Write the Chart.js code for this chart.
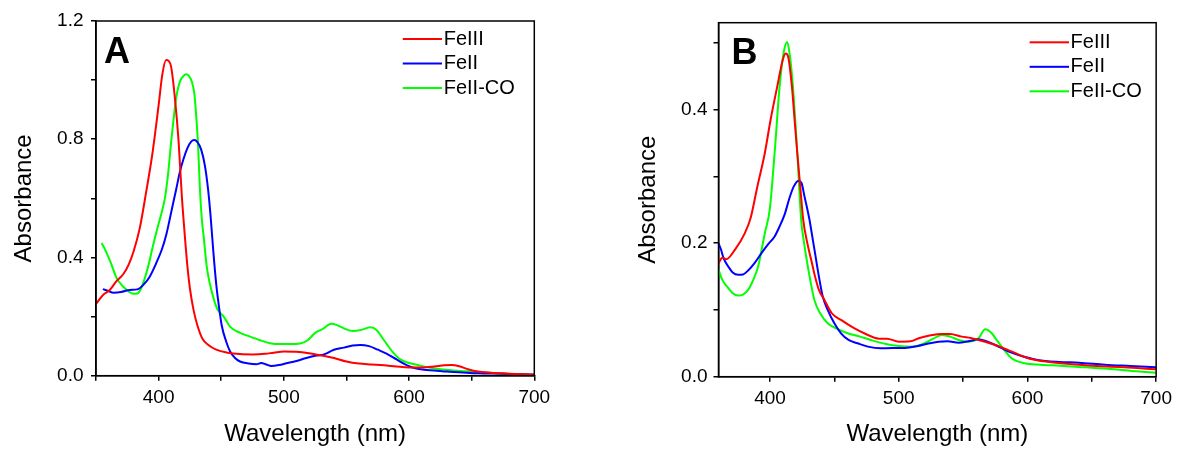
<!DOCTYPE html>
<html>
<head>
<meta charset="utf-8">
<script src="https://cdn.jsdelivr.net/npm/chart.js@4.4.1/dist/chart.umd.min.js"></script>
<style>
html, body { margin: 0; padding: 0; background: #fff; }
#wrap { position: relative; width: 1178px; height: 449px; overflow: hidden; background: #fff; }
.box { position: absolute; top: 0; height: 449px; }
#boxA { left: 0; width: 580px; }
#boxB { left: 600px; width: 578px; }
canvas { display: block; }
</style>
</head>
<body>
<div id="wrap">
  <div class="box" id="boxA"><canvas id="cA" width="580" height="449" style="width:580px;height:449px"></canvas></div>
  <div class="box" id="boxB"><canvas id="cB" width="578" height="449" style="width:578px;height:449px"></canvas></div>
</div>
<script>
// ---------------- Data ----------------
const seriesNames = ['FeIII', 'FeII', 'FeII-CO'];
const seriesColors = ['#ff0000', '#0000ff', '#00ff00'];

// Panel A
const wlA_FeIII = [350,356,361,366,372,376,380,385,390,395,400,403,406,408,410,413,416,418.5,421,423,425,428,431,435,440,446,455,465,475,485,492,500,510,520,530,540,550,560,570,580,590,600,610,620,628,634,640,647,655,665,680,700];
const absA_FeIII = [0.243,0.275,0.29,0.318,0.345,0.375,0.42,0.5,0.62,0.75,0.915,1.02,1.068,1.065,1.045,0.94,0.79,0.61,0.47,0.37,0.295,0.22,0.17,0.125,0.103,0.088,0.078,0.073,0.072,0.074,0.078,0.082,0.081,0.076,0.068,0.06,0.048,0.041,0.038,0.035,0.031,0.028,0.028,0.031,0.035,0.036,0.032,0.022,0.014,0.01,0.007,0.003];

const wlA_FeII = [355.5,360,364,370,377,383,388,393,398,402.5,406,410.4,414,417,420,423,426,428.5,431,434,437,439.5,441.5,443.7,446,448,450.4,454,457,461,465,472,478,482,486,490,496,502,510,518,526,532,540,548,555,561,568,575,582,590,598,605,612,620,630,640,655,675,690,700];
const absA_FeII = [0.293,0.286,0.281,0.283,0.29,0.292,0.308,0.336,0.38,0.426,0.475,0.56,0.63,0.69,0.735,0.77,0.792,0.797,0.79,0.765,0.71,0.63,0.54,0.42,0.31,0.24,0.17,0.115,0.083,0.06,0.048,0.041,0.039,0.043,0.038,0.033,0.036,0.042,0.05,0.06,0.068,0.072,0.088,0.095,0.102,0.104,0.1,0.088,0.075,0.055,0.036,0.025,0.02,0.018,0.014,0.012,0.008,0.007,0.005,0.004];

const wlA_FeIICO = [354.5,358,362,366.5,372,376,380,383,386,389,392,395,398.5,402,405,407.5,410,412,414,417,420,422,424,426.5,428.5,430,431.5,433,434.5,436,438.4,441,444,447,452,457,465,473,481,489,497,505,513,519,525,531,538,542,548,555,562,569,574,580,587,593,600,608,616,625,635,645,660,675,690,700];
const absA_FeIICO = [0.449,0.42,0.38,0.33,0.3,0.285,0.277,0.278,0.295,0.33,0.375,0.43,0.49,0.545,0.6,0.68,0.79,0.87,0.94,0.995,1.015,1.02,1.015,0.995,0.955,0.88,0.78,0.63,0.53,0.47,0.37,0.31,0.26,0.225,0.2,0.166,0.145,0.132,0.12,0.11,0.107,0.107,0.109,0.12,0.145,0.158,0.176,0.172,0.16,0.151,0.155,0.164,0.155,0.12,0.08,0.055,0.043,0.035,0.028,0.022,0.018,0.015,0.011,0.007,0.004,0.002];

// Panel B
const wlB_FeIII = [360,363,366,372.7,380.5,385,390,396,400.5,405.7,410,412.1,414,417,419.1,421.2,423.5,425.8,429,432,435,438,442.3,448,455.2,465,473.2,484.7,491,500,509,515.6,525,533.6,540,549,556,562,575,588,600.6,613,626,645,665,685,700];
const absB_FeIII = [0.17,0.178,0.176,0.19,0.215,0.238,0.283,0.335,0.385,0.435,0.475,0.484,0.48,0.435,0.385,0.335,0.285,0.235,0.2,0.175,0.15,0.13,0.115,0.095,0.085,0.073,0.065,0.057,0.057,0.0525,0.053,0.0575,0.062,0.064,0.064,0.06,0.058,0.055,0.0475,0.0375,0.0275,0.023,0.02,0.017,0.015,0.013,0.011];

const wlB_FeII = [360,362,364,367.6,371,375.3,379,383,388,393.4,398,403.6,407,411.4,415.2,418.5,422.2,424.5,426.8,430.7,432,435,438,441,444.8,450,455.2,461,468,476,486,495,505,515,524,531,538,546.5,554,562,568,575,585,593,608,625,640,660,680,700];
const absB_FeII = [0.2,0.19,0.177,0.165,0.156,0.1525,0.153,0.159,0.17,0.185,0.197,0.21,0.223,0.243,0.268,0.285,0.2935,0.29,0.27,0.235,0.22,0.185,0.15,0.12,0.1,0.08,0.065,0.055,0.05,0.045,0.0425,0.043,0.043,0.046,0.05,0.0525,0.053,0.051,0.053,0.056,0.053,0.0475,0.038,0.0325,0.025,0.022,0.021,0.018,0.016,0.014];

const wlB_FeIICO = [360,363,367.6,371,375.3,379,383,387,390.8,394,396,399.8,403.6,407.5,410.6,413.4,415.5,417.8,421.2,424.2,426.5,429.4,434.5,439,444.8,452,460.3,470,478.3,490,500,510.5,520,527,533.6,540,546.5,554.3,562,567.2,572.3,576,580,587.7,598,610,626,645,665,685,700];
const absB_FeIICO = [0.16,0.145,0.1325,0.125,0.1215,0.123,0.13,0.145,0.165,0.195,0.215,0.25,0.335,0.435,0.485,0.501,0.48,0.435,0.335,0.235,0.2,0.165,0.115,0.095,0.08,0.072,0.065,0.06,0.055,0.049,0.046,0.045,0.05,0.057,0.0625,0.06,0.055,0.0525,0.0575,0.071,0.065,0.055,0.045,0.0275,0.02,0.018,0.0165,0.014,0.0115,0.008,0.006];

// Ticks & labels
const xTicksA = [350,400,450,500,550,600,650,700];
const xLabelsA = ['','400','','500','','600','','700'];
const yTicksA = [0,0.2,0.4,0.6,0.8,1.0,1.2];
const yLabelsA = ['0.0','','0.4','','0.8','','1.2'];
const xTicksB = [400,450,500,550,600,650,700];
const xLabelsB = ['400','','500','','600','','700'];
const yTicksB = [0,0.1,0.2,0.3,0.4,0.5];
const yLabelsB = ['0.0','','0.2','','0.4',''];

const xTitle = 'Wavelength (nm)';
const yTitle = 'Absorbance';

// ---------------- Rendering ----------------
const FONT = "'Liberation Sans', Arial, Helvetica, sans-serif";

function pairs(w, a) { return w.map((x, i) => ({ x: x, y: a[i] })); }

function legendLine(color) {
  const c = document.createElement('canvas');
  c.width = 47; c.height = 4;
  const g = c.getContext('2d');
  g.fillStyle = color;
  g.fillRect(8, 1, 39, 2);
  return c;
}

const framePlugin = {
  id: 'frame',
  afterDatasetsDraw(chart) {
    const { ctx, chartArea: a } = chart;
    ctx.save();
    ctx.strokeStyle = '#000';
    ctx.lineWidth = 1.5;
    ctx.strokeRect(a.left, a.top, a.right - a.left, a.bottom - a.top);
    ctx.restore();
  }
};

const letterPlugin = {
  id: 'panelLetter',
  afterDraw(chart, args, opts) {
    const ctx = chart.ctx;
    ctx.save();
    ctx.fillStyle = '#000';
    ctx.font = 'bold 36px ' + FONT;
    ctx.textBaseline = 'alphabetic';
    ctx.textAlign = 'left';
    ctx.fillText(opts.text, opts.x, opts.y);
    ctx.restore();
  }
};

const legendPlace = {
  id: 'legendPlace',
  afterLayout(chart, args, opts) {
    const lg = chart.legend;
    if (!lg) return;
    lg.left = opts.x; lg.top = opts.y;
    lg.width = 170; lg.height = 110;
    lg.right = lg.left + lg.width; lg.bottom = lg.top + lg.height;
  }
};

function makeChart(id, p) {
  const datasets = p.series.map((s, i) => ({
    label: seriesNames[i],
    data: pairs(s[0], s[1]),
    borderColor: seriesColors[i],
    backgroundColor: seriesColors[i],
    borderWidth: 2,
    pointRadius: 0,
    pointHoverRadius: 0,
    fill: false,
    cubicInterpolationMode: 'monotone'
  }));
  const axisCommon = {
    border: { display: true, color: '#000', width: 1.5 },
    grid: { display: true, drawOnChartArea: false, drawTicks: true, tickLength: 5, color: '#000', lineWidth: 1.5 }
  };
  return new Chart(document.getElementById(id), {
    type: 'line',
    data: { datasets },
    plugins: [framePlugin, letterPlugin, legendPlace],
    options: {
      responsive: false,
      devicePixelRatio: 1,
      animation: false,
      events: [],
      layout: { padding: { left: 0, top: p.padTop, right: p.padRight, bottom: 0 } },
      scales: {
        x: Object.assign({}, axisCommon, {
          type: 'linear', position: 'bottom', min: p.xMin, max: p.xMax,
          afterFit: s => { s.height = p.xAxisH; },
          afterBuildTicks: s => { s.ticks = p.xTicks.map(v => ({ value: v })); },
          ticks: { autoSkip: false, maxRotation: 0, minRotation: 0, padding: 6, color: '#000',
                   font: { family: FONT, size: 19 }, callback: (v, i) => p.xLabels[i] },
          title: { display: true, text: xTitle, color: '#000', font: { family: FONT, size: 24 },
                   padding: { top: 0, bottom: 0 } }
        }),
        y: Object.assign({}, axisCommon, {
          type: 'linear', position: 'left', min: p.yMin, max: p.yMax,
          afterFit: s => { s.width = p.yAxisW; },
          afterBuildTicks: s => { s.ticks = p.yTicks.map(v => ({ value: v })); },
          ticks: { autoSkip: false, padding: p.yTickPad, color: '#000',
                   font: { family: FONT, size: 19 }, callback: (v, i) => p.yLabels[i] },
          title: { display: true, text: yTitle, color: '#000', font: { family: FONT, size: 24 },
                   padding: { top: p.yTitlePad, bottom: 0 } }
        })
      },
      plugins: {
        tooltip: { enabled: false },
        legend: {
          display: true, position: 'chartArea', align: 'start', fullSize: false,
          labels: {
            color: '#000', font: { family: FONT, size: 20 }, usePointStyle: true,
            pointStyleWidth: 31, padding: 4.5,
            generateLabels: chart => Chart.defaults.plugins.legend.labels.generateLabels(chart).map(it => {
              it.pointStyle = legendLine(it.strokeStyle);
              return it;
            })
          }
        },
        panelLetter: { text: p.letter, x: p.letterX, y: p.letterY },
        legendPlace: { x: p.legendX, y: p.legendY }
      }
    }
  });
}

makeChart('cA', {
  series: [[wlA_FeIII, absA_FeIII], [wlA_FeII, absA_FeII], [wlA_FeIICO, absA_FeIICO]],
  xMin: 350, xMax: 700, yMin: 0, yMax: 1.2,
  xTicks: xTicksA, xLabels: xLabelsA, yTicks: yTicksA, yLabels: yLabelsA,
  padTop: 21, padRight: 45.7, xAxisH: 73.3, yAxisW: 96,
  yTickPad: 7.5, yTitlePad: 9.6,
  letter: 'A', letterX: 104, letterY: 63,
  legendX: 398.2, legendY: 24.5
});

makeChart('cB', {
  series: [[wlB_FeIII, absB_FeIII], [wlB_FeII, absB_FeII], [wlB_FeIICO, absB_FeIICO]],
  xMin: 360, xMax: 700, yMin: 0, yMax: 0.53,
  xTicks: xTicksB, xLabels: xLabelsB, yTicks: yTicksB, yLabels: yLabelsB,
  padTop: 22.7, padRight: 19.3, xAxisH: 72.3, yAxisW: 118.5,
  yTickPad: 6, yTitlePad: 33.6,
  letter: 'B', letterX: 131.5, letterY: 64,
  legendX: 425.1, legendY: 27.8
});
</script>
</body>
</html>
